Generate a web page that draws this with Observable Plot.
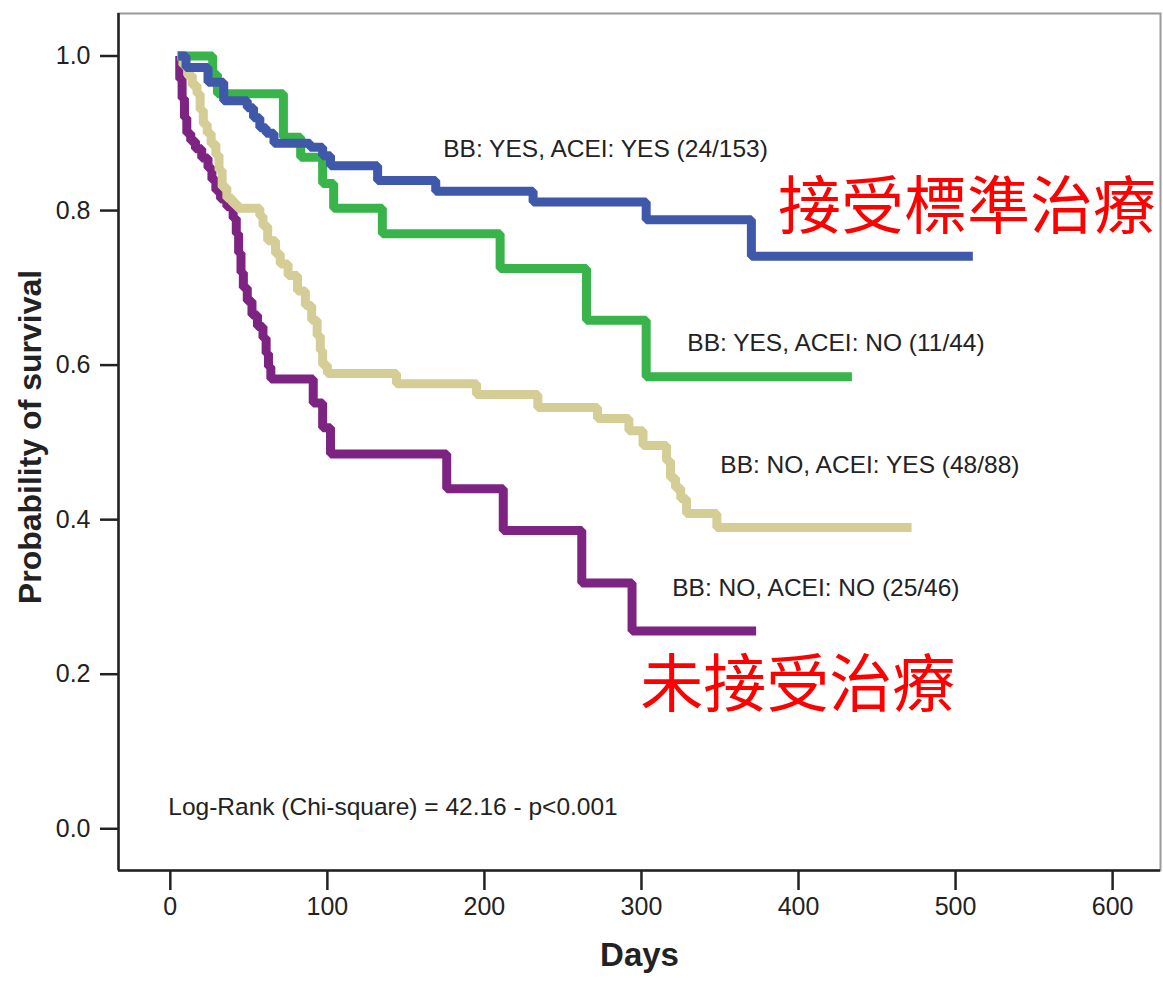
<!DOCTYPE html>
<html><head><meta charset="utf-8">
<script src="https://cdn.jsdelivr.net/npm/d3@7"></script>
<script src="https://cdn.jsdelivr.net/npm/@observablehq/plot@0.6"></script>
<style>body{margin:0;background:#fff}</style>
</head><body><div id="chart"></div>
<script>
// ---- data ----
const groups = ["BB: NO, ACEI: NO", "BB: NO, ACEI: YES", "BB: YES, ACEI: NO", "BB: YES, ACEI: YES"];
const groupColors = ["#7d2382", "#d4cd96", "#39b44a", "#3f58aa"];

const blueDays = [5, 10, 24, 34, 49, 53, 57, 61, 66, 89, 97, 102, 132, 169, 231, 303, 370, 511];
const blueSurv = [1.0, 0.985, 0.966, 0.942, 0.933, 0.92, 0.907, 0.9, 0.887, 0.882, 0.871, 0.858, 0.839, 0.825, 0.811, 0.788, 0.741, 0.741];

const greenDays = [5, 27, 30, 72, 83, 97, 104, 135, 210, 265, 303, 434];
const greenSurv = [1.0, 0.976, 0.951, 0.895, 0.869, 0.835, 0.803, 0.770, 0.725, 0.658, 0.585, 0.585];

const tanDays = [4.5, 8, 11, 14, 17, 19, 21, 23.5, 26, 29, 31, 33, 36, 39.5, 42.6, 57, 59, 62, 67, 70, 75, 81, 86, 90, 93.5, 95.5, 97, 100, 144, 195, 234, 272, 292, 301, 316, 318.5, 321.7, 325, 328.7, 348, 472];
const tanSurv = [1.0, 0.988, 0.975, 0.962, 0.951, 0.93, 0.912, 0.9, 0.886, 0.872, 0.852, 0.83, 0.816, 0.809, 0.803, 0.793, 0.78, 0.761, 0.744, 0.731, 0.716, 0.696, 0.677, 0.658, 0.638, 0.619, 0.600, 0.589, 0.576, 0.562, 0.545, 0.531, 0.515, 0.496, 0.476, 0.454, 0.441, 0.427, 0.408, 0.39, 0.39];

const purpleDays = [4.5, 6, 7.5, 9, 10.5, 13, 16, 20, 24, 26.5, 29, 32, 36, 40, 42, 43.5, 45, 46.5, 49, 52, 55.5, 59, 61, 62.5, 64, 91, 97, 102, 176, 212, 262, 294, 373];
const purpleSurv = [1.0, 0.97, 0.945, 0.92, 0.9, 0.89, 0.88, 0.868, 0.855, 0.84, 0.826, 0.815, 0.805, 0.79, 0.77, 0.745, 0.72, 0.7, 0.683, 0.665, 0.65, 0.635, 0.615, 0.598, 0.582, 0.551, 0.519, 0.485, 0.44, 0.386, 0.318, 0.256, 0.256];

const xTicks = [0, 100, 200, 300, 400, 500, 600];
const yTicks = [0.0, 0.2, 0.4, 0.6, 0.8, 1.0];
const xDomain = [-33, 630.5];
const yDomain = [-0.054, 1.055];

const curveLabelText = ["BB: YES, ACEI: YES (24/153)", "BB: YES, ACEI: NO (11/44)", "BB: NO, ACEI: YES (48/88)", "BB: NO, ACEI: NO (25/46)"];
const curveLabelDay = [173.8, 329.2, 350.2, 319.6];
const curveLabelSurv = [0.880, 0.629, 0.470, 0.312];

const noteText = ["接受標準治療", "未接受治療"];
const noteDay = [387, 299.3];
const noteSurv = [0.803, 0.185];

const statText = ["Log-Rank (Chi-square) = 42.16 - p<0.001"];
const statDay = [-1.3];
const statSurv = [0.028];

// ---- build tables ----
const seriesDays = [purpleDays, tanDays, greenDays, blueDays];
const seriesSurv = [purpleSurv, tanSurv, greenSurv, blueSurv];
const rows = groups.flatMap((g, i) => seriesDays[i].map((d, j) => ({group: g, day: d, surv: seriesSurv[i][j]})));
const curveLabels = curveLabelText.map((t, i) => ({text: t, day: curveLabelDay[i], surv: curveLabelSurv[i]}));
const notes = noteText.map((t, i) => ({text: t, day: noteDay[i], surv: noteSurv[i]}));
const stats = statText.map((t, i) => ({text: t, day: statDay[i], surv: statSurv[i]}));

const sans = "'Liberation Sans', Arial, sans-serif";

const chart = Plot.plot({
  width: 1163,
  height: 987,
  marginLeft: 118,
  marginRight: 3,
  marginTop: 13,
  marginBottom: 117,
  style: {fontFamily: sans, color: "#222", background: "#fff"},
  x: {domain: xDomain},
  y: {domain: yDomain},
  color: {domain: groups, range: groupColors},
  marks: [
    Plot.frame({stroke: "#9a9a9a", strokeWidth: 2}),
    Plot.ruleX([xDomain[0]], {stroke: "#222", strokeWidth: 2.5}),
    Plot.ruleY([yDomain[0]], {stroke: "#222", strokeWidth: 2.5}),
    Plot.axisX({ticks: xTicks, tickSize: 20, tickPadding: 7, fontSize: 25, strokeWidth: 2.5, label: null}),
    Plot.axisY({ticks: yTicks, tickSize: 18, tickPadding: 10, fontSize: 25, strokeWidth: 2.5, tickFormat: d3.format(".1f"), label: null}),
    Plot.line(rows, {x: "day", y: "surv", z: "group", stroke: "group", curve: "step-after", strokeWidth: 9, strokeLinejoin: "miter", strokeLinecap: "butt"}),
    Plot.text(curveLabels, {x: "day", y: "surv", text: "text", textAnchor: "start", fontSize: 24.5, fill: "#222"}),
    Plot.text(stats, {x: "day", y: "surv", text: "text", textAnchor: "start", fontSize: 24.5, fill: "#222"}),
    Plot.text(notes, {x: "day", y: "surv", text: "text", textAnchor: "start", fontSize: 63, fill: "#ff0000", fontFamily: "'Noto Sans CJK TC', sans-serif"}),
    Plot.text(["Probability of survival"], {frameAnchor: "left", textAnchor: "middle", dx: -88, dy: -5, rotate: -90, fontSize: 32, fontWeight: "bold", fill: "#222"}),
    Plot.text(["Days"], {frameAnchor: "bottom", dy: 95, fontSize: 33, fontWeight: "bold", fill: "#222"})
  ]
});
document.getElementById("chart").appendChild(chart);
</script>
</body></html>
